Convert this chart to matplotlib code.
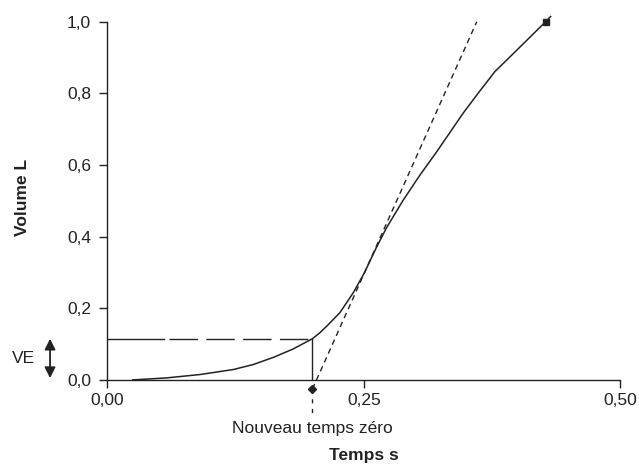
import matplotlib
matplotlib.use("Agg")
import matplotlib.pyplot as plt

plt.rcParams['font.family'] = ['Liberation Sans', 'DejaVu Sans']

# Data
temps = [0.025, 0.058, 0.0905, 0.123, 0.1425, 0.162, 0.181, 0.20, 0.207, 0.215,
         0.2268, 0.2397, 0.2508, 0.262, 0.2722, 0.2884, 0.3047, 0.321, 0.3468,
         0.362, 0.3777, 0.3955, 0.427, 0.432]
volume = [0.0, 0.0056, 0.015, 0.029, 0.043, 0.063, 0.086, 0.115, 0.131, 0.153,
          0.188, 0.243, 0.300, 0.368, 0.425, 0.502, 0.572, 0.637, 0.745,
          0.803, 0.861, 0.911, 1.0, 1.015]
end_point = (0.427, 1.0)
t0 = 0.2           # nouveau temps zéro
ve = 0.115         # volume extrapolé
tangent_t = [0.2, 0.36]
tangent_v = [-0.0256, 1.0]
x_ticks = [0.0, 0.25, 0.5]
x_labels = ["0,00", "0,25", "0,50"]
y_ticks = [0.0, 0.2, 0.4, 0.6, 0.8, 1.0]
y_labels = ["0,0", "0,2", "0,4", "0,6", "0,8", "1,0"]

c = "#222222"
fs = 12.5
fig = plt.figure(figsize=(6.39, 4.65), dpi=100)
ax = fig.add_axes([0.1675, 0.183, 0.8035, 0.77])

ax.plot(temps, volume, color=c, lw=1.1, clip_on=False, solid_joinstyle='round')
ax.plot([end_point[0]], [end_point[1]], marker='s', color=c, ms=5, clip_on=False)
ax.plot(tangent_t, tangent_v, color=c, lw=1.0, dashes=(4, 3), clip_on=False)
ax.plot([tangent_t[0]], [tangent_v[0]], marker='D', color=c, ms=4, clip_on=False)
ax.plot([t0, t0], [tangent_v[0], -0.095], color=c, lw=1.0, dashes=(3, 4), clip_on=False)
# VE reference line: long first segment then dashes
ax.plot([0, 0.055], [ve, ve], color=c, lw=1.0)
ax.plot([0.0605, t0], [ve, ve], color=c, lw=1.0, dashes=(20.5, 6))
ax.plot([t0, t0], [0, ve], color=c, lw=1.0)

ax.set_xlim(0, 0.5)
ax.set_ylim(0, 1.0)
ax.set_xticks(x_ticks)
ax.set_xticklabels(x_labels)
ax.set_yticks(y_ticks)
ax.set_yticklabels(y_labels)
for s in ['top', 'right']:
    ax.spines[s].set_visible(False)
for s in ['left', 'bottom']:
    ax.spines[s].set_color(c)
    ax.spines[s].set_linewidth(1.0)
ax.tick_params(direction='out', length=5.5, width=1.0, color=c, labelsize=fs,
               labelcolor=c)
ax.tick_params(axis='y', pad=6)
ax.tick_params(axis='x', pad=4)

ax.set_ylabel("Volume L", fontweight='bold', fontsize=fs, color=c)
ax.yaxis.set_label_coords(-0.150, 0.51)
ax.text(t0, -0.135, "Nouveau temps zéro", ha='center', va='center',
        fontsize=fs, color=c, clip_on=False)
ax.text(0.25, -0.21, "Temps s", ha='center', va='center', fontweight='bold',
        fontsize=fs, color=c, clip_on=False)

# VE double arrow
ax.annotate("", xy=(-0.0555, 0.005), xytext=(-0.0555, ve),
            xycoords='data', textcoords='data', annotation_clip=False,
            arrowprops=dict(arrowstyle='<|-|>', color=c, lw=1.3,
                            mutation_scale=16, shrinkA=0, shrinkB=0))
ax.text(-0.070, ve / 2 + 0.003, "VE", ha='right', va='center', fontsize=fs,
        color=c, clip_on=False)

fig.savefig("out.png", dpi=100)
